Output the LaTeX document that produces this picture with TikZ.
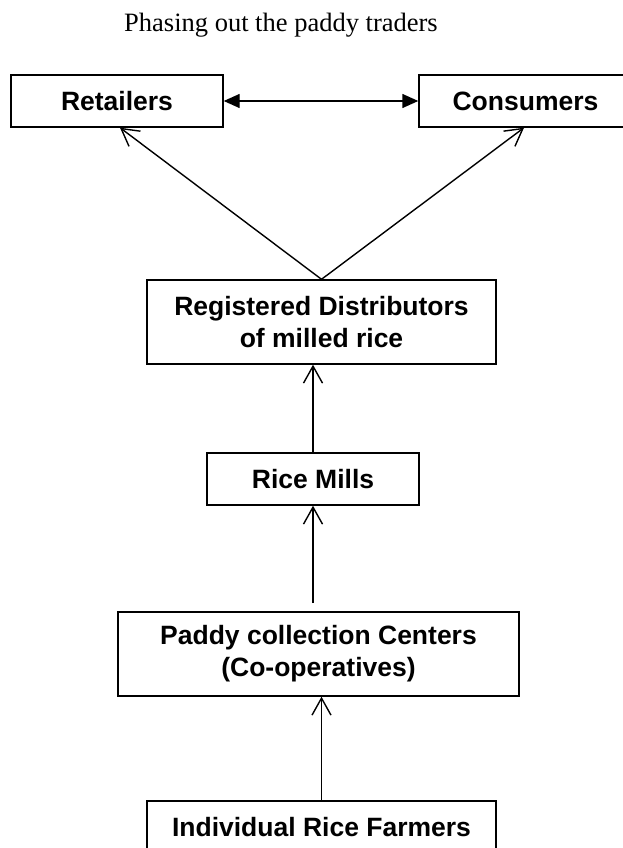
\documentclass[tikz,border=0pt]{standalone}
\usepackage{fontspec}
\setmainfont{Liberation Serif}
\setsansfont{Liberation Sans}
\usetikzlibrary{arrows.meta}
\begin{document}
\begin{tikzpicture}[x=1pt,y=-1pt,
  boxnode/.style={draw, line width=1.4pt, inner sep=0pt, align=center,
    font=\sffamily\bfseries\fontsize{26.5}{32}\selectfont},
  openarrow/.style={line width=1.4pt, -{Straight Barb[length=17pt,width=19pt,line width=1.4pt]}},
  twoway/.style={line width=1.4pt, {Triangle[length=16pt,width=14pt]}-{Triangle[length=16pt,width=14pt]}}]
\useasboundingbox (0,0) rectangle (623,848);
\node[anchor=base west, inner sep=0pt, font=\rmfamily\fontsize{26.5}{32}\selectfont] (title) at (124,32) {Phasing out the paddy traders};
\node[boxnode, minimum width=212pt, minimum height=52pt] (ret) at (117,101) {Retailers};
\node[boxnode, minimum width=213pt, minimum height=52pt] (con) at (525.5,101) {Consumers};
\node[boxnode, minimum width=349pt, minimum height=84pt] (reg) at (321.5,322) {Registered Distributors\\of milled rice};
\node[boxnode, minimum width=212pt, minimum height=52pt] (mill) at (313,479) {Rice Mills};
\node[boxnode, minimum width=401pt, minimum height=84pt] (pad) at (318.5,654) {Paddy collection Centers\\(Co-operatives)};
\node[boxnode, minimum width=349pt, minimum height=52pt] (farm) at (321.5,827) {Individual Rice Farmers};
\coordinate (gap) at (313,603);
\draw[twoway] (ret.east) -- (con.west);
\draw[openarrow] (reg.north) -- ([xshift=3pt]ret.south);
\draw[openarrow] (reg.north) -- ([xshift=-1.5pt]con.south);
\draw[openarrow] (mill.north) -- (mill.north |- reg.south);
\draw[openarrow] (gap) -- (mill.south);
\draw[openarrow] (farm.north) -- (farm.north |- pad.south);
\end{tikzpicture}
\end{document}
